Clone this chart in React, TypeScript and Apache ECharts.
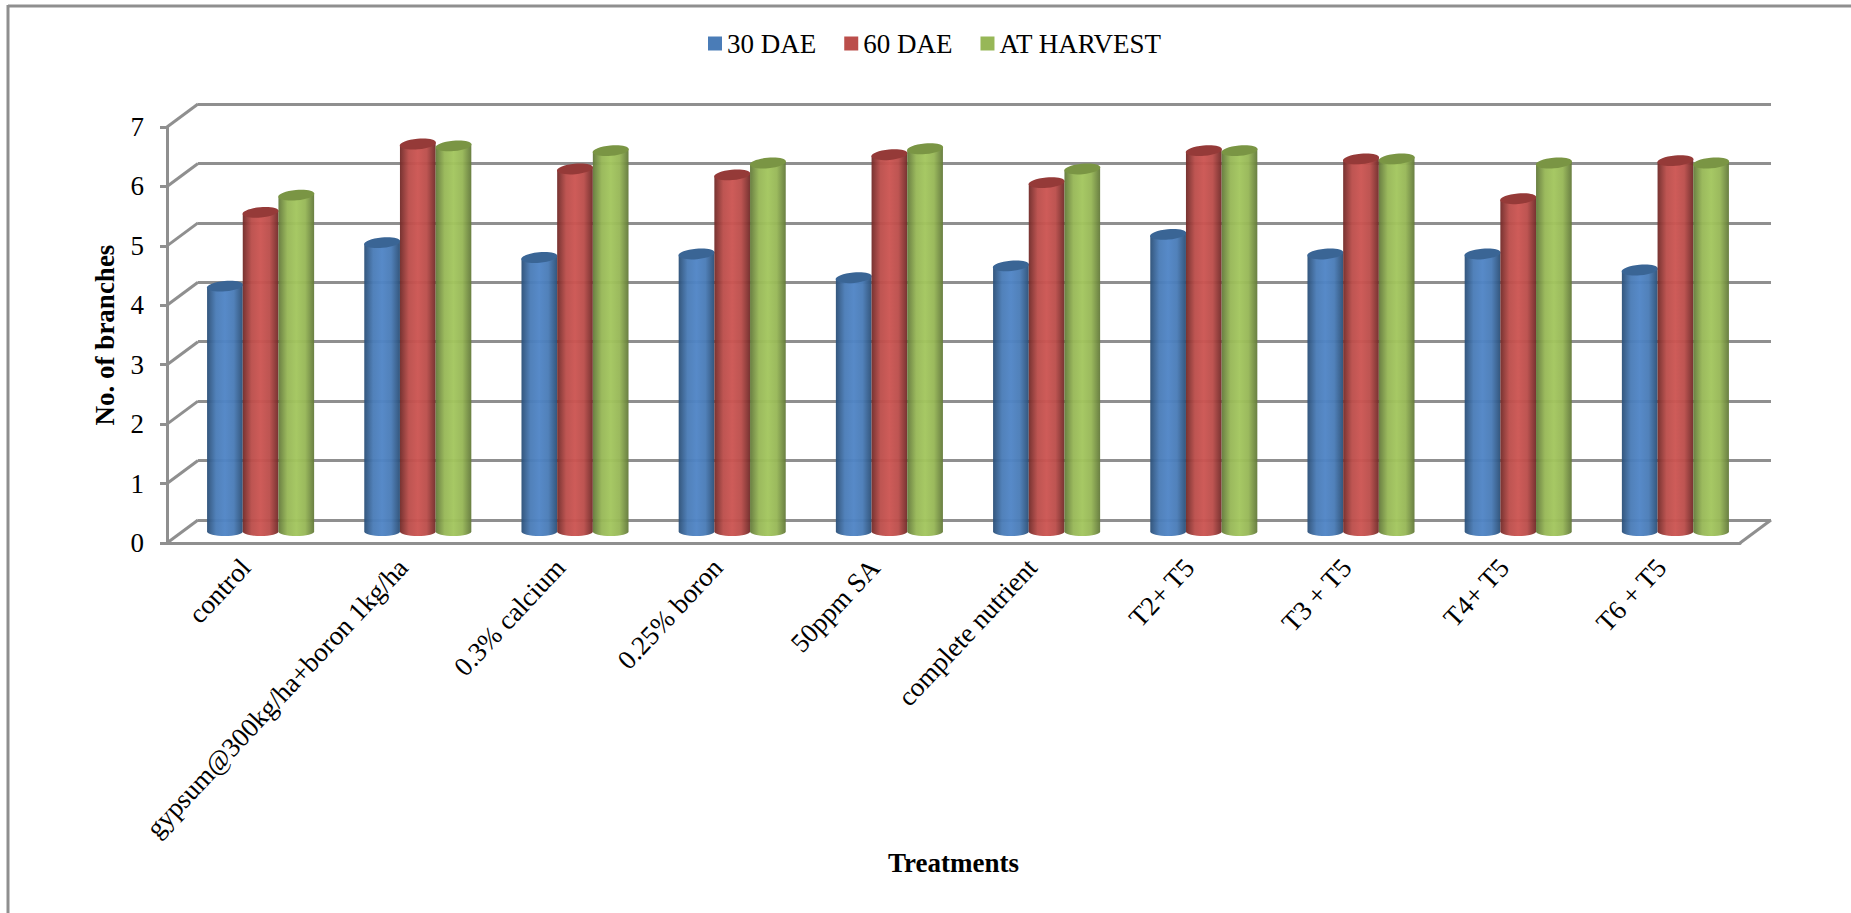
import React, { useEffect, useRef } from "react";
import * as echarts from "echarts";

const categories = [
  "control",
  "gypsum@300kg/ha+boron 1kg/ha",
  "0.3% calcium",
  "0.25% boron",
  "50ppm SA",
  "complete nutrient",
  "T2+ T5",
  "T3 + T5",
  "T4+ T5",
  "T6 + T5",
];
const dae30 = [4.13, 4.86, 4.61, 4.67, 4.27, 4.47, 5.0, 4.67, 4.67, 4.4];
const dae60 = [5.37, 6.52, 6.1, 6.0, 6.34, 5.87, 6.41, 6.27, 5.6, 6.24];
const atHarvest = [5.66, 6.49, 6.41, 6.2, 6.44, 6.1, 6.41, 6.27, 6.2, 6.2];
const yTicks = [0, 1, 2, 3, 4, 5, 6, 7];

const FONT = "Liberation Serif";
const GRID_GRAY = "#8f8f8f";
// Pseudo-3D depth of the plot box: back wall offset from the front plane.
const DEPTH_X = 31;
const DEPTH_Y = -23;
const BAR_RATIO = 0.227;

type Shade = { edge: string; mid: string; cap: string; flat: string };
const blueShade: Shade = { edge: "#2c5078", mid: "#5085c6", cap: "#3a6595", flat: "#4a7cb7" };
const redShade: Shade = { edge: "#722b29", mid: "#cc5552", cap: "#953a38", flat: "#bb4e4b" };
const greenShade: Shade = { edge: "#647a3b", mid: "#a3c65e", cap: "#7a9544", flat: "#97b757" };

// Cylinder drawn from the value scale: body with rounded foot, tilted cap on top.
function cylinder(shade: Shade, slot: number) {
  return (params: any, api: any) => {
    const cat = api.value(0);
    const val = api.value(1);
    const band = api.size([1, 0])[0];
    const w = band * BAR_RATIO;
    const [cx0, top] = api.coord([cat, val]);
    const base = api.coord([cat, 0])[1];
    const cx = cx0 + slot * w;
    const tilt = 0.09;
    const rise = (w / 2) * Math.sin(tilt);
    const footRy = 4.5;
    const points: number[][] = [
      [cx - w / 2, top + rise],
      [cx + w / 2, top - rise],
    ];
    for (let a = 0; a <= 16; a++) {
      const t = (a / 16) * Math.PI;
      points.push([cx + (w / 2) * Math.cos(t), base + footRy * Math.sin(t)]);
    }
    const body = new echarts.graphic.LinearGradient(0, 0, 1, 0, [
      { offset: 0, color: shade.edge },
      { offset: 0.25, color: shade.flat },
      { offset: 0.5, color: shade.mid },
      { offset: 0.75, color: shade.flat },
      { offset: 1, color: shade.edge },
    ]);
    return {
      type: "group",
      children: [
        { type: "polygon", shape: { points }, style: { fill: body, opacity: 0.96 } },
        {
          type: "ellipse",
          x: cx,
          y: top,
          rotation: tilt,
          shape: { cx: 0, cy: 0, rx: w / 2 + 0.3, ry: 5.2 },
          style: { fill: shade.cap },
        },
      ],
    };
  };
}

// Slanted lines joining the front axis to the back wall, plus the floor's right edge.
function depthLines(params: any, api: any) {
  const v = api.value(0);
  const band = api.size([1, 0])[0];
  const [xc, y] = api.coord([0, v]);
  const x = xc - band / 2;
  const children: any[] = [
    {
      type: "line",
      shape: { x1: x, y1: y, x2: x + DEPTH_X, y2: y + DEPTH_Y },
      style: { stroke: GRID_GRAY, lineWidth: 3 },
    },
  ];
  if (v === 0) {
    const xr = x + band * categories.length;
    children.push({
      type: "line",
      shape: { x1: xr, y1: y, x2: xr + DEPTH_X, y2: y + DEPTH_Y },
      style: { stroke: GRID_GRAY, lineWidth: 3 },
    });
  }
  return { type: "group", children };
}

export default function App() {
  const ref = useRef<HTMLDivElement>(null);

  useEffect(() => {
    document.body.style.margin = "0";
    document.body.style.background = "#fff";
    const chart = echarts.init(ref.current!, undefined, { renderer: "svg" });

    const barSeries = (name: string, values: number[], shade: Shade, slot: number) => ({
      name,
      type: "custom",
      xAxisIndex: 2,
      yAxisIndex: 2,
      z: 5,
      clip: false,
      itemStyle: { color: shade.flat },
      encode: { x: 0, y: 1 },
      data: values.map((v, i) => [i, v]),
      renderItem: cylinder(shade, slot),
    });

    const frame = { stroke: GRID_GRAY, lineWidth: 3 };

    chart.setOption({
      animation: false,
      backgroundColor: "#ffffff",
      textStyle: { fontFamily: FONT },
      graphic: [
        { type: "line", shape: { x1: 8, y1: 6, x2: 1851, y2: 6 }, style: frame },
        { type: "line", shape: { x1: 8, y1: 5, x2: 8, y2: 913 }, style: frame },
      ],
      legend: {
        data: ["30 DAE", "60 DAE", "AT HARVEST"],
        left: 703,
        top: 25,
        itemWidth: 14,
        itemHeight: 14,
        itemGap: 28,
        icon: "rect",
        textStyle: { fontFamily: FONT, fontSize: 27, color: "#000", padding: [2, 0, 0, 0] },
      },
      grid: [
        // front plane: carries the axes and labels
        { left: 167, top: 127, width: 1573, height: 416 },
        // back wall: carries the horizontal gridlines
        { left: 167 + DEPTH_X, top: 127 + DEPTH_Y, width: 1573, height: 416 },
        // mid-depth plane: carries the cylinders
        { left: 182, top: 115.5, width: 1572, height: 416 },
      ],
      xAxis: [
        {
          type: "category",
          gridIndex: 0,
          data: categories,
          name: "Treatments",
          nameLocation: "middle",
          nameGap: 306,
          nameTextStyle: { fontFamily: FONT, fontSize: 27, fontWeight: "bold", color: "#000" },
          axisLine: { show: true, lineStyle: { color: GRID_GRAY, width: 3 } },
          axisTick: { show: false },
          axisLabel: {
            rotate: 47,
            interval: 0,
            margin: 20,
            fontFamily: FONT,
            fontSize: 27,
            color: "#000",
          },
        },
        { type: "category", gridIndex: 1, data: categories, show: false },
        { type: "category", gridIndex: 2, data: categories, show: false },
      ],
      yAxis: [
        {
          type: "value",
          gridIndex: 0,
          min: 0,
          max: 7,
          interval: 1,
          name: "No. of branches",
          nameLocation: "middle",
          nameGap: 49,
          nameTextStyle: { fontFamily: FONT, fontSize: 27, fontWeight: "bold", color: "#000" },
          axisLine: { show: true, lineStyle: { color: GRID_GRAY, width: 3 } },
          axisTick: { show: true, length: 7, lineStyle: { color: GRID_GRAY, width: 3 } },
          axisLabel: { margin: 23, fontFamily: FONT, fontSize: 27, color: "#000" },
          splitLine: { show: false },
        },
        {
          type: "value",
          gridIndex: 1,
          min: 0,
          max: 7,
          interval: 1,
          axisLine: { show: false },
          axisTick: { show: false },
          axisLabel: { show: false },
          splitLine: { show: true, lineStyle: { color: GRID_GRAY, width: 3 } },
        },
        { type: "value", gridIndex: 2, min: 0, max: 7, interval: 1, show: false, splitLine: { show: false } },
      ],
      series: [
        {
          type: "custom",
          xAxisIndex: 0,
          yAxisIndex: 0,
          z: 1,
          clip: false,
          silent: true,
          encode: { y: 0 },
          data: yTicks.map((v) => [v]),
          renderItem: depthLines,
        },
        barSeries("30 DAE", dae30, blueShade, -1),
        barSeries("60 DAE", dae60, redShade, 0),
        barSeries("AT HARVEST", atHarvest, greenShade, 1),
      ],
    });

    return () => chart.dispose();
  }, []);

  return (
    <div
      ref={ref}
      style={{ position: "fixed", left: 0, top: 0, width: 1851, height: 913 }}
    />
  );
}
